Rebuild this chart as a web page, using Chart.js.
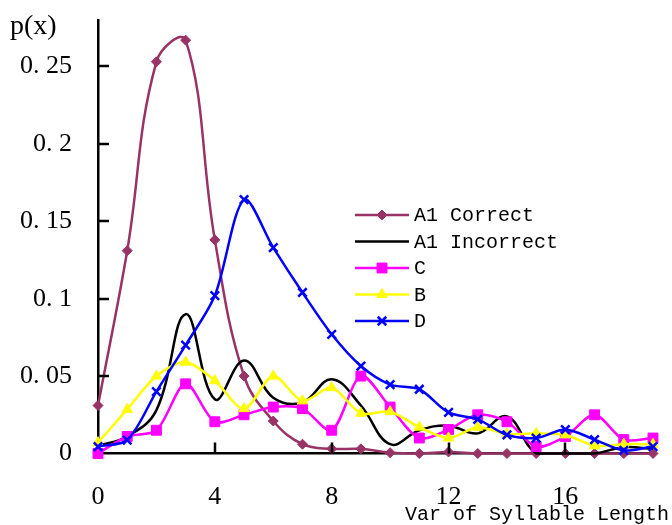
<!DOCTYPE html>
<html>
<head>
<meta charset="utf-8">
<script src="https://cdn.jsdelivr.net/npm/chart.js@4/dist/chart.umd.min.js"></script>
<style>
  html, body { margin: 0; padding: 0; background: #fff; }
  #wrap { width: 672px; height: 525px; position: relative; }
</style>
</head>
<body>
<div id="wrap"><canvas id="chart"></canvas></div>
<script>
// values
const syllableVar = [0, 1, 2, 3, 4, 5, 6, 7, 8, 9, 10, 11, 12, 13, 14, 15, 16, 17, 18, 19];
const a1Correct   = [0.031, 0.131, 0.253, 0.267, 0.138, 0.050, 0.021, 0.006, 0.003, 0.003, 0.0005, 0, 0.001, 0, 0, 0, 0, 0, 0, 0];
const a1Incorrect = [0.005, 0.011, 0.028, 0.090, 0.035, 0.060, 0.036, 0.033, 0.048, 0.031, 0.006, 0.015, 0.018, 0.013, 0.024, 0, 0, 0, 0.004, 0.003];
const seriesC     = [0, 0.011, 0.015, 0.045, 0.0205, 0.025, 0.030, 0.029, 0.015, 0.050, 0.030, 0.010, 0.0155, 0.025, 0.0205, 0.0045, 0.011, 0.025, 0.009, 0.010];
const seriesB     = [0.007, 0.0285, 0.050, 0.059, 0.047, 0.029, 0.050, 0.034, 0.0425, 0.026, 0.027, 0.017, 0.010, 0.017, 0.0125, 0.013, 0.012, 0.005, 0.006, 0.006];
const seriesD     = [0.0045, 0.0087, 0.040, 0.070, 0.102, 0.164, 0.133, 0.104, 0.077, 0.0565, 0.0445, 0.0415, 0.0265, 0.022, 0.012, 0.010, 0.0155, 0.009, 0.002, 0.0045];
const xTicks = [0, 4, 8, 12, 16];
const yTicks = [0, 0.05, 0.1, 0.15, 0.2, 0.25];

const toPoints = (vals) => vals.map((v, i) => ({ x: syllableVar[i], y: v }));

function series(label, vals, color, style, radius, order, tension) {
  return {
    label: label,
    data: toPoints(vals),
    borderColor: color,
    backgroundColor: color,
    borderWidth: 2.5,
    pointStyle: style,
    pointRadius: style ? radius : 0,
    pointBorderWidth: style === 'crossRot' ? 2.5 : 1,
    pointBackgroundColor: color,
    pointBorderColor: color,
    tension: tension,
    order: order,
    clip: false
  };
}

const datasets = [
  series('A1 Correct', a1Correct, '#993366', 'rectRot', 5, 4, 0.4),
  series('A1 Incorrect', a1Incorrect, '#000000', false, 0, 3, 0.4),
  series('C', seriesC, '#FF00FF', 'rect', 7, 2, 0.3),
  series('B', seriesB, '#FFFF00', 'triangle', 6, 1, 0.3),
  series('D', seriesD, '#0000FF', 'crossRot', 6, 0, 0.3)
];

// inside tick marks, the legend and the loose texts
const decor = {
  id: 'decor',
  afterDraw(chart) {
    const ctx = chart.ctx;
    const xs = chart.scales.x, ys = chart.scales.y;
    ctx.save();
    ctx.strokeStyle = '#000';
    ctx.lineWidth = 2.5;
    ctx.beginPath();
    yTicks.slice(1).forEach(v => {
      const py = Math.round(ys.getPixelForValue(v));
      ctx.moveTo(xs.left, py);
      ctx.lineTo(xs.left + 11, py);
    });
    xTicks.slice(1).forEach(v => {
      const px = Math.round(xs.getPixelForValue(v));
      ctx.moveTo(px, ys.bottom);
      ctx.lineTo(px, ys.bottom - 11);
    });
    ctx.stroke();

    // legend
    const lx = 355, ly = 215, step = 26.5;
    ctx.font = '20px "Liberation Mono", monospace';
    ctx.textBaseline = 'middle';
    ctx.textAlign = 'left';
    chart.data.datasets.forEach((ds, i) => {
      const y = ly + i * step;
      ctx.strokeStyle = ds.borderColor;
      ctx.fillStyle = ds.borderColor;
      ctx.lineWidth = 2.5;
      ctx.beginPath();
      ctx.moveTo(lx, y);
      ctx.lineTo(lx + 54, y);
      ctx.stroke();
      if (ds.pointStyle && Chart.helpers && Chart.helpers.drawPoint) {
        ctx.lineWidth = ds.pointBorderWidth;
        Chart.helpers.drawPoint(ctx, {
          pointStyle: ds.pointStyle,
          radius: ds.pointRadius,
          borderWidth: ds.pointBorderWidth,
          rotation: 0
        }, lx + 27, y);
      }
      ctx.fillStyle = '#000';
      ctx.fillText(ds.label, lx + 59, y + 1);
    });

    ctx.fillStyle = '#000';
    ctx.font = '28px "Liberation Serif", serif';
    ctx.textAlign = 'left';
    ctx.fillText('p(x)', 10, 27);
    ctx.font = '20px "Liberation Mono", monospace';
    ctx.textAlign = 'right';
    ctx.fillText('Var of Syllable Length', 669, 515);
    ctx.restore();
  }
};

new Chart(document.getElementById('chart'), {
  type: 'line',
  data: { datasets: datasets },
  options: {
    responsive: true,
    maintainAspectRatio: false,
    animation: false,
    layout: { padding: { top: 20, right: 19, left: 0, bottom: 0 } },
    plugins: { legend: { display: false }, tooltip: { enabled: false } },
    scales: {
      x: {
        type: 'linear',
        min: 0,
        max: 19,
        afterFit: s => { s.height = 71.5; },
        afterBuildTicks: s => { s.ticks = xTicks.map(v => ({ value: v })); },
        grid: { display: false, drawTicks: false },
        border: { display: true, color: '#000', width: 2.5 },
        ticks: {
          padding: 28,
          color: '#000',
          font: { family: '"Liberation Serif", serif', size: 26 }
        }
      },
      y: {
        min: 0,
        max: 0.28,
        afterFit: s => { s.width = 98; s.paddingTop = 0; s.paddingBottom = 0; },
        afterBuildTicks: s => { s.ticks = yTicks.map(v => ({ value: v })); },
        grid: { display: false, drawTicks: false },
        border: { display: true, color: '#000', width: 2.5 },
        ticks: {
          padding: 26,
          color: '#000',
          font: { family: '"Liberation Serif", serif', size: 26 },
          callback: v => v === 0 ? '0' : '0. ' + Number(v).toFixed(2).replace(/0$/, '').slice(2)
        }
      }
    }
  },
  plugins: [decor]
});
</script>
</body>
</html>
